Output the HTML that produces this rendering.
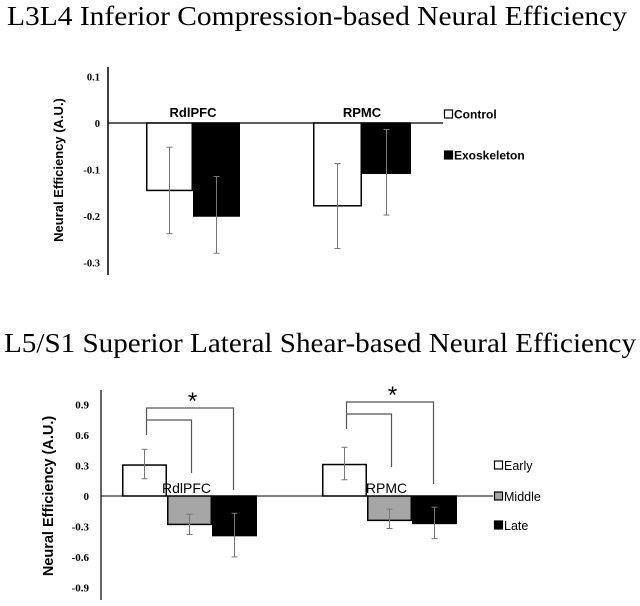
<!DOCTYPE html>
<html><head><meta charset="utf-8"><style>
html,body{margin:0;padding:0;background:#fff;}
svg{display:block;}
</style></head><body>
<svg id="c" width="640" height="606" xmlns="http://www.w3.org/2000/svg">
<text x="7" y="25" style="font-family:'Liberation Serif',serif" font-size="27" textLength="620" lengthAdjust="spacingAndGlyphs">L3L4 Inferior Compression-based Neural Efficiency</text>
<text x="4" y="352" style="font-family:'Liberation Serif',serif" font-size="27" textLength="632" lengthAdjust="spacingAndGlyphs">L5/S1 Superior Lateral Shear-based Neural Efficiency</text>
<g id="top"></g><g id="bot"></g>
</svg>
<script>
// Top chart data
const topCategories = ["RdlPFC", "RPMC"];
const topSeries = ["Control", "Exoskeleton"];
const topControl = [-0.145, -0.178];
const topExo = [-0.2, -0.108];
const topControlErrLo = [-0.238, -0.27];
const topControlErrHi = [-0.052, -0.087];
const topExoErrLo = [-0.28, -0.198];
const topExoErrHi = [-0.115, -0.014];
const topTicks = ["0.1", "0", "-0.1", "-0.2", "-0.3"];
const topTickVals = [0.1, 0, -0.1, -0.2, -0.3];
// Bottom chart data
const botCategories = ["RdlPFC", "RPMC"];
const botSeries = ["Early", "Middle", "Late"];
const botEarly = [0.305, 0.31];
const botMiddle = [-0.28, -0.24];
const botLate = [-0.39, -0.27];
const botEarlyErrLo = [0.17, 0.16];
const botEarlyErrHi = [0.46, 0.48];
const botMiddleErrLo = [-0.38, -0.32];
const botMiddleErrHi = [-0.18, -0.13];
const botLateErrLo = [-0.6, -0.42];
const botLateErrHi = [-0.17, -0.11];
const botTicks = ["0.9", "0.6", "0.3", "0", "-0.3", "-0.6", "-0.9"];
const botTickVals = [0.9, 0.6, 0.3, 0, -0.3, -0.6, -0.9];

const NS = "http://www.w3.org/2000/svg";
const SERIF = "'Liberation Serif', serif";
const SANS = "'Liberation Sans', sans-serif";
function mk(parent, tag, attrs, text) {
  const e = document.createElementNS(NS, tag);
  for (const k in attrs) e.setAttribute(k, attrs[k]);
  if (text !== undefined) e.textContent = text;
  parent.appendChild(e);
  return e;
}

// ---- Top chart ----
(function(){
  const g = document.getElementById('top');
  const y = v => 123 - v * 465;
  const groupX = [146, 313];
  const bw = [47, 49];
  let e;
  e = mk(g, 'line', {x1:108, y1:67, x2:108, y2:275, stroke:'#000', 'stroke-width':1.5});
  
  
  e = mk(g, 'line', {x1:108, y1:y(0), x2:443, y2:y(0), stroke:'#000', 'stroke-width':1.2});
  
  
  topTickVals.forEach((v,i)=>{
    e = mk(g, 'text', {x:100, y:y(v)+4, 'text-anchor':'end', style:'font-family:'+SERIF, 'font-weight':'bold', 'font-size':10.5}, topTicks[i]);
    
    
  });
  e = mk(g, 'text', {x:0, y:0, transform:'translate(63,170) rotate(-90)', 'text-anchor':'middle', style:'font-family:'+SANS, 'font-weight':'bold', 'font-size':13}, 'Neural Efficiency (A.U.)');
  
  
  const vals = [topControl, topExo], lo=[topControlErrLo, topExoErrLo], hi=[topControlErrHi, topExoErrHi];
  const fills = ['#fff', '#000'];
  topCategories.forEach((c,ci)=>{
    e = mk(g, 'text', {x:groupX[ci]+bw[ci], y:117, 'text-anchor':'middle', style:'font-family:'+SANS, 'font-weight':'bold', 'font-size':13}, c);
    
    
    vals.forEach((s,si)=>{
      const x = groupX[ci] + si*bw[ci];
      const v = s[ci];
      e = mk(g, 'rect', {x:x+0.75, y:Math.min(y(0),y(v)), width:bw[ci]-1.5, height:Math.abs(y(v)-y(0)), fill:fills[si], stroke:'#000', 'stroke-width':1.5});
      
      
      const cx = x + bw[ci]/2;
      const eg = mk(g, 'g', {stroke:'#777', 'stroke-width':1});
      
      
      mk(eg, 'line', {x1:cx, y1:y(hi[si][ci]), x2:cx, y2:y(lo[si][ci])});
      mk(eg, 'line', {x1:cx-3, y1:y(hi[si][ci]), x2:cx+3, y2:y(hi[si][ci])});
      mk(eg, 'line', {x1:cx-3, y1:y(lo[si][ci]), x2:cx+3, y2:y(lo[si][ci])});
    });
  });
  const ly = [114, 155];
  topSeries.forEach((s,i)=>{
    e = mk(g, 'rect', {x:444.5, y:ly[i]-4, width:8, height:8, fill:fills[i], stroke:'#000', 'stroke-width':1.2});
    
    
    e = mk(g, 'text', {x:454, y:ly[i]+4.5, style:'font-family:'+SANS, 'font-weight':'bold', 'font-size':12}, s);
    
    
  });
})();

// ---- Bottom chart ----
(function(){
  const g = document.getElementById('bot');
  const y = v => 496 - v * 101.5;
  const groupX = [122, 322];
  const bw = 45;
  let e;
  e = mk(g, 'line', {x1:101, y1:390, x2:101, y2:600, stroke:'#000', 'stroke-width':1.2});
  
  
  e = mk(g, 'line', {x1:101, y1:y(0), x2:493, y2:y(0), stroke:'#000', 'stroke-width':1});
  
  
  botTickVals.forEach((v,i)=>{
    e = mk(g, 'text', {x:89, y:y(v)+4, 'text-anchor':'end', style:'font-family:'+SERIF, 'font-weight':'bold', 'font-size':11}, botTicks[i]);
    
    
  });
  e = mk(g, 'text', {x:0, y:0, transform:'translate(53,496) rotate(-90)', 'text-anchor':'middle', style:'font-family:'+SANS, 'font-weight':'bold', 'font-size':14.5}, 'Neural Efficiency (A.U.)');
  
  
  const vals=[botEarly, botMiddle, botLate], lo=[botEarlyErrLo, botMiddleErrLo, botLateErrLo], hi=[botEarlyErrHi, botMiddleErrHi, botLateErrHi];
  const fills=['#fff', '#a6a6a6', '#000'];
  botCategories.forEach((c,ci)=>{
    vals.forEach((s,si)=>{
      const x = groupX[ci] + si*bw;
      const v = s[ci];
      e = mk(g, 'rect', {x:x+0.75, y:Math.min(y(0),y(v)), width:bw-1.5, height:Math.abs(y(v)-y(0)), fill:fills[si], stroke:'#000', 'stroke-width':1.5});
      
      
      const cx = x + bw/2;
      const eg = mk(g, 'g', {stroke:'#777', 'stroke-width':1});
      
      
      mk(eg, 'line', {x1:cx, y1:y(hi[si][ci]), x2:cx, y2:y(lo[si][ci])});
      mk(eg, 'line', {x1:cx-3, y1:y(hi[si][ci]), x2:cx+3, y2:y(hi[si][ci])});
      mk(eg, 'line', {x1:cx-3, y1:y(lo[si][ci]), x2:cx+3, y2:y(lo[si][ci])});
    });
    e = mk(g, 'text', {x:groupX[ci]+bw*1.5-3, y:493, 'text-anchor':'middle', style:'font-family:'+SANS, 'font-size':14}, c);
    
    
    const x0 = groupX[ci] + bw/2 + 2, xm = groupX[ci] + bw*1.5 + 2, xl = groupX[ci] + bw*2.5 - 1;
    const yo = ci===0 ? 408 : 402, yi = yo + 12;
    const bg = mk(g, 'g', {stroke:'#555', 'stroke-width':1.2, fill:'none'});
    
    
    mk(bg, 'polyline', {points:`${x0},${yo+27} ${x0},${yo} ${xl},${yo} ${xl},${yo+82}`});
    mk(bg, 'polyline', {points:`${x0},${yi} ${xm},${yi} ${xm},${yi+53}`});
    e = mk(g, 'text', {x:xm+1, y:yo+1, 'text-anchor':'middle', style:'font-family:'+SANS, 'font-size':24}, '*');
    
    
  });
  const ly = [465, 496, 525];
  botSeries.forEach((s,i)=>{
    e = mk(g, 'rect', {x:494.5, y:ly[i]-4, width:8, height:8, fill:fills[i], stroke:'#000', 'stroke-width':1.2});
    
    
    e = mk(g, 'text', {x:504, y:ly[i]+5, style:'font-family:'+SANS, 'font-size':12.5}, s);
    
    
  });
})();
</script>
</body></html>
